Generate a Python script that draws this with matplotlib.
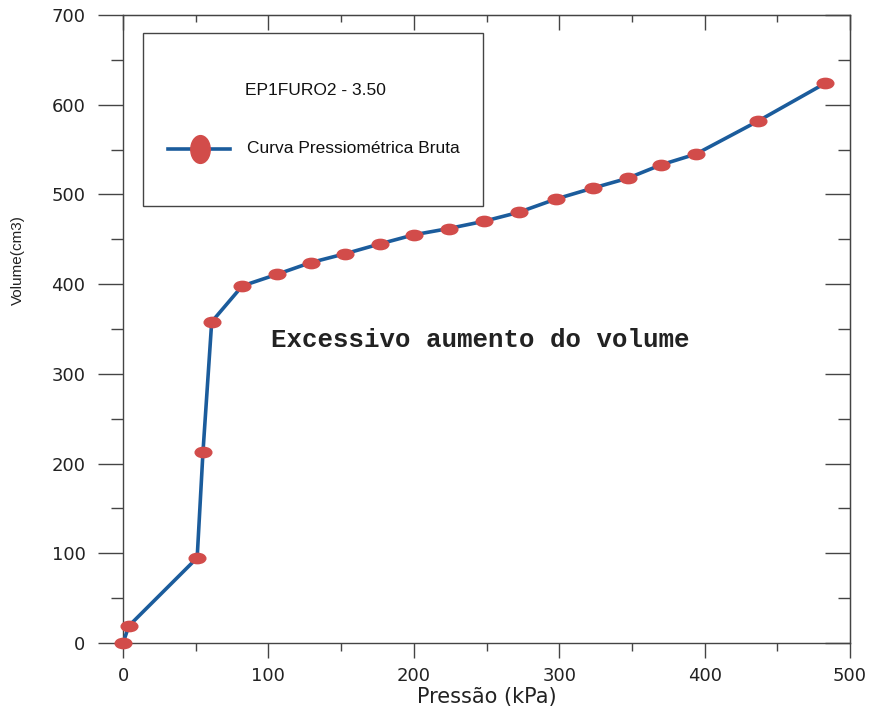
import numpy as np
import matplotlib
matplotlib.use('Agg')
import matplotlib.pyplot as plt
from matplotlib.path import Path
from matplotlib.transforms import Affine2D
from matplotlib.patches import Rectangle
from matplotlib.lines import Line2D

# data
pressao = [0, 4, 51, 55, 61, 82, 106, 129, 153, 177, 200, 224, 248, 272,
           298, 323, 347, 370, 394, 437, 483]
volume = [0, 19, 95, 213, 358, 398, 411, 424, 434, 445, 455, 462, 470, 480,
          495, 507, 518, 533, 545, 582, 624]

titulo = 'EP1FURO2 - 3.50'
serie = 'Curva Pressiométrica Bruta'
nota = 'Excessivo aumento do volume'

line_col = '#1b5c9c'
mark_col = '#d24c4a'
spine_col = '#444444'
narrow = ['Liberation Sans Narrow', 'Liberation Sans', 'DejaVu Sans']

# flattened ellipse markers (horizontal on the curve, vertical in the key)
ell_h = Path.unit_circle().transformed(Affine2D().scale(1.0, 0.62))
ell_v = Path.unit_circle().transformed(Affine2D().scale(0.7, 1.0))

fig = plt.figure(figsize=(8.73, 7.11), dpi=100)
ax = fig.add_axes([0.1409, 0.0956, 0.8328, 0.8833])

ax.plot(pressao, volume, color=line_col, lw=2.6, marker=ell_h, ms=12,
        mfc=mark_col, mec=mark_col, clip_on=False, zorder=3)

ax.set_xlim(0, 500)
ax.set_ylim(0, 700)
xt = np.arange(0, 501, 100)
yt = np.arange(0, 701, 100)
ax.set_xticks(xt)
ax.set_yticks(yt)
ax.set_xticks(np.arange(50, 500, 100), minor=True)
ax.set_yticks(np.arange(50, 700, 100), minor=True)

for s in ax.spines.values():
    s.set_color(spine_col)
    s.set_linewidth(1.0)

ax.tick_params(axis='y', which='major', direction='out', length=18, width=1.0,
               color=spine_col, pad=9, labelsize=13, labelcolor='#222222')
ax.tick_params(axis='y', which='minor', direction='out', length=9, width=1.0,
               color=spine_col)
ax.tick_params(axis='x', which='major', direction='out', length=11, width=1.0,
               color=spine_col, pad=6, labelsize=13, labelcolor='#222222')
ax.tick_params(axis='x', which='minor', direction='out', length=6, width=1.0,
               color=spine_col)

# inward ticks on top and right
top = ax.secondary_xaxis('top')
top.set_xticks(xt)
top.set_xticks(np.arange(50, 500, 100), minor=True)
top.tick_params(which='major', direction='in', length=11, width=1.0,
                color=spine_col, labeltop=False)
top.tick_params(which='minor', direction='in', length=5, width=1.0,
                color=spine_col)
top.spines['top'].set_color(spine_col)
right = ax.secondary_yaxis('right')
right.set_yticks(yt)
right.set_yticks(np.arange(50, 700, 100), minor=True)
right.tick_params(which='major', direction='in', length=18, width=1.0,
                  color=spine_col, labelright=False)
right.tick_params(which='minor', direction='in', length=9, width=1.0,
                  color=spine_col)
right.spines['right'].set_color(spine_col)

ax.set_xlabel('Pressão (kPa)', fontsize=15, color='#222222', va='top')
ax.xaxis.set_label_coords(0.5, -0.07)
ax.set_ylabel('Volume(cm3)', fontsize=11, family=narrow, color='#222222')
ax.yaxis.set_label_coords(-0.135, 0.61)

# annotation
ax.text(246, 338, nota, family=['Liberation Mono', 'DejaVu Sans Mono'],
        weight='bold', fontsize=18.5, color='#222222', ha='center', va='center')

# hand drawn key box
ax.add_patch(Rectangle((0.0275, 0.696), 0.4675, 0.275, transform=ax.transAxes,
                       fill=False, ec=spine_col, lw=1.0, zorder=4))
ax.text(0.168, 0.879, titulo, transform=ax.transAxes, family=narrow,
        fontsize=12.5, color='#111111', ha='left', va='center')
ax.add_line(Line2D([0.062, 0.147], [0.787, 0.787], transform=ax.transAxes,
                   color=line_col, lw=2.6, zorder=4))
ax.add_line(Line2D([0.106], [0.787], transform=ax.transAxes, ls='none',
                   marker=ell_v, ms=20, mfc=mark_col, mec=mark_col, zorder=5))
ax.text(0.1706, 0.787, serie, transform=ax.transAxes, family=narrow,
        fontsize=12.5, color='#111111', ha='left', va='center')

plt.savefig('out.png', dpi=100)
